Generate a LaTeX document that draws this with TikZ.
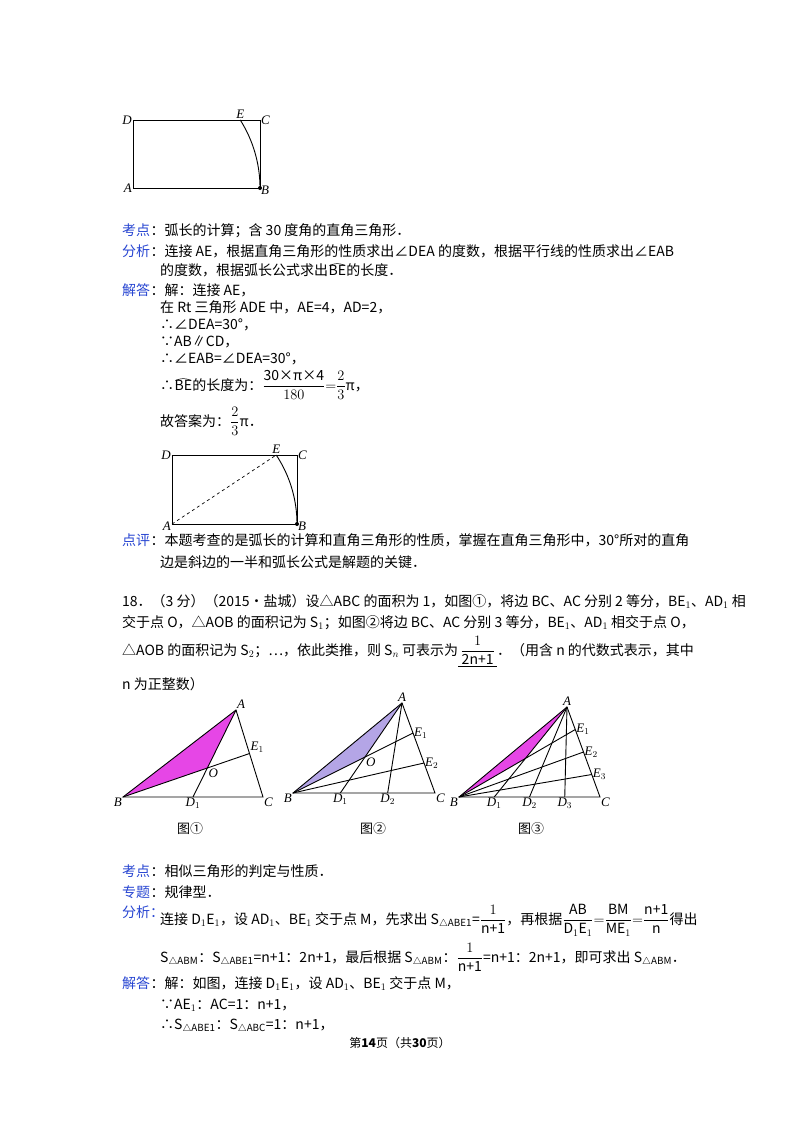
\documentclass[tikz,border=0pt]{standalone}
\usepackage{fontspec}
\setmainfont{Noto Sans CJK SC}
\newfontfamily\lab{Liberation Serif}
\usetikzlibrary{calc}
\newcommand{\fsz}{\fontsize{14}{16}\selectfont}
\definecolor{kblue}{RGB}{40,70,210}
\definecolor{mag}{RGB}{230,70,230}
\definecolor{lav}{RGB}{180,165,230}
\begin{document}
\begin{tikzpicture}[x=1pt,y=-1pt,
  txt/.style={anchor=base west,inner sep=0,font=\fsz},
  lbl/.style={inner sep=1pt,font=\fontsize{13}{13}\selectfont\lab\itshape},
  figcap/.style={inner sep=0,font=\fontsize{13}{13}\selectfont},
  fig/.style={line width=0.9pt}]
\useasboundingbox (0,0) rectangle (800,1132);
\fill[white] (0,0) rectangle (800,1132);
% top figure
\coordinate (tD) at (133,120); \coordinate (tC) at (260,120);
\coordinate (tA) at (133,188); \coordinate (tB) at (260,188);
\draw[fig] (tD)--(tC)--(tB)--(tA)--cycle;
\draw[fig] (tB) arc[start angle=0,end angle=32.4,radius=127pt] coordinate (tE);
\fill (tB) circle (2pt);
\node[lbl,left] at (tD) {D}; \node[lbl,right] at (tC) {C};
\node[lbl,above] at (tE) {E}; \node[lbl,left] at (tA) {A}; \node[lbl,right] at ($(tB)+(0,2)$) {B};
% text block 1
\node[txt,text=kblue] (k1) at (122,235) {考点};
\node[txt] (k1t) at (k1.base east) {：弧长的计算；含 30 度角的直角三角形．};
\node[txt,text=kblue] (f1) at (122,256) {分析};
\node[txt] (f1t) at (f1.base east) {：连接 AE，根据直角三角形的性质求出∠DEA 的度数，根据平行线的性质求出∠EAB};
\node[txt] (f1b) at (160,275) {的度数，根据弧长公式求出};
\node[txt] (be1) at (f1b.base east) {BE};
\draw[line width=0.5pt] ($(be1.north west)+(1,1)$) to[bend left=25] ($(be1.north east)+(-1,1)$);
\node[txt] at (be1.base east) {的长度．};
\node[txt,text=kblue] (j1) at (122,295) {解答};
\node[txt] at (j1.base east) {：解：连接 AE，};
\node[txt] at (160,312) {在 Rt 三角形 ADE 中，AE=4，AD=2，};
\node[txt] at (160,329) {∴∠DEA=30°，};
\node[txt] at (160,346) {∵AB∥CD，};
\node[txt] at (160,363) {∴∠EAB=∠DEA=30°，};
\node[txt] (s1) at (160,390) {∴ };
\node[txt] (be2) at (s1.base east) {BE};
\draw[line width=0.5pt] ($(be2.north west)+(1,1)$) to[bend left=25] ($(be2.north east)+(-1,1)$);
\node[txt] at (be2.base east) {的长度为：$\displaystyle\frac{\mbox{30×π×4}}{180}{=}\frac{2}{3}$π，};
\node[txt] at (160,426) {故答案为：$\displaystyle\frac{2}{3}$π．};
% second figure
\coordinate (sD) at (172,455); \coordinate (sC) at (297,455);
\coordinate (sA) at (172,524); \coordinate (sB) at (297,524);
\draw[fig] (sD)--(sC)--(sB)--(sA)--cycle;
\draw[fig] (sB) arc[start angle=0,end angle=33.5,radius=125pt] coordinate (sE);
\draw[dashed,line width=0.7pt] (sA)--(sE);
\fill (sB) circle (2pt);
\node[lbl,left] at (sD) {D}; \node[lbl,right] at (sC) {C};
\node[lbl,above] at (sE) {E}; \node[lbl,left] at ($(sA)+(0,2)$) {A}; \node[lbl,right] at ($(sB)+(0,2)$) {B};
\node[txt,text=kblue] (d1) at (122,545) {点评};
\node[txt] at (d1.base east) {：本题考查的是弧长的计算和直角三角形的性质，掌握在直角三角形中，30°所对的直角};
\node[txt] at (160,567) {边是斜边的一半和弧长公式是解题的关键．};
% problem 18
\node[txt] at (122,606) {18．（3 分）（2015•盐城）设△ABC 的面积为 1，如图①，将边 BC、AC 分别 2 等分，BE$_1$、AD$_1$ 相};
\node[txt] at (122,627) {交于点 O，△AOB 的面积记为 S$_1$；如图②将边 BC、AC 分别 3 等分，BE$_1$、AD$_1$ 相交于点 O，};
\node[txt] at (122,655) {△AOB 的面积记为 S$_2$；…，依此类推，则 S$_n$ 可表示为\underline{\,$\displaystyle\frac{1}{\mbox{2n+1}}$\,}．（用含 n 的代数式表示，其中};
\node[txt] at (122,689) {n 为正整数）};
% fig 1
\coordinate (aA) at (236,710); \coordinate (aB) at (123,797); \coordinate (aC) at (263,797);
\coordinate (aD) at ($(aB)!0.5!(aC)$); \coordinate (aE) at ($(aA)!0.5!(aC)$);
\coordinate (aO) at (intersection of aA--aD and aB--aE);
\fill[mag] (aA)--(aB)--(aO)--cycle;
\draw[fig] (aA)--(aB)--(aC)--cycle; \draw[fig] (aA)--(aD); \draw[fig] (aB)--(aE);
\node[lbl,above right] at (aA) {A}; \node[lbl,below left] at (aB) {B}; \node[lbl,below right] at (aC) {C};
\node[lbl,below] at (aD) {D$_1$}; \node[lbl,above right] at (aE) {E$_1$}; \node[lbl,below right] at (aO) {O};
\node[figcap] at (190,829) {图①};
% fig 2
\coordinate (bA) at (402,703); \coordinate (bB) at (293,793); \coordinate (bC) at (435,793);
\coordinate (bD1) at ($(bB)!1/3!(bC)$); \coordinate (bD2) at ($(bB)!2/3!(bC)$);
\coordinate (bE1) at ($(bA)!1/3!(bC)$); \coordinate (bE2) at ($(bA)!2/3!(bC)$);
\coordinate (bO) at (intersection of bA--bD1 and bB--bE1);
\fill[lav] (bA)--(bB)--(bO)--cycle;
\draw[fig] (bA)--(bB)--(bC)--cycle;
\foreach \p in {bD1,bD2} \draw[fig] (bA)--(\p);
\foreach \p in {bE1,bE2} \draw[fig] (bB)--(\p);
\node[lbl,above] at (bA) {A}; \node[lbl,below left] at (bB) {B}; \node[lbl,below right] at (bC) {C};
\node[lbl,below] at (bD1) {D$_1$}; \node[lbl,below] at (bD2) {D$_2$};
\node[lbl,right] at (bE1) {E$_1$}; \node[lbl,right] at (bE2) {E$_2$}; \node[lbl,below right] at (bO) {O};
\node[figcap] at (373,829) {图②};
% fig 3
\coordinate (cA) at (567,707); \coordinate (cB) at (459,797); \coordinate (cC) at (600,797);
\foreach \i in {1,2,3} {
  \coordinate (cD\i) at ($(cB)!\i/4!(cC)$); \coordinate (cE\i) at ($(cA)!\i/4!(cC)$);}
\coordinate (cO) at (intersection of cA--cD1 and cB--cE1);
\fill[mag] (cA)--(cB)--(cO)--cycle;
\draw[fig] (cA)--(cB)--(cC)--cycle;
\foreach \i in {1,2,3} {\draw[fig] (cA)--(cD\i); \draw[fig] (cB)--(cE\i);
  \node[lbl,below] at (cD\i) {D$_\i$}; \node[lbl,right] at (cE\i) {E$_\i$};}
\node[lbl,above] at (cA) {A}; \node[lbl,below left] at (cB) {B}; \node[lbl,below right] at (cC) {C};
\node[figcap] at (531,829) {图③};
% text block 2
\node[txt,text=kblue] (k2) at (122,876) {考点};
\node[txt] at (k2.base east) {：相似三角形的判定与性质．};
\node[txt,text=kblue] (z2) at (122,897) {专题};
\node[txt] at (z2.base east) {：规律型．};
\node[txt,text=kblue] at (122,917) {分析：};
\node[txt] at (160,924) {连接 D$_1$E$_1$，设 AD$_1$、BE$_1$ 交于点 M，先求出 S$_{\triangle\mathrm{ABE1}}$=$\displaystyle\frac{1}{\mbox{n+1}}$，再根据$\displaystyle\frac{\mbox{AB}}{\mbox{D}_1\mbox{E}_1}{=}\frac{\mbox{BM}}{\mbox{ME}_1}{=}\frac{\mbox{n+1}}{\mbox{n}}$得出};
\node[txt] at (160,962) {S$_{\triangle\mathrm{ABM}}$：S$_{\triangle\mathrm{ABE1}}$=n+1：2n+1，最后根据 S$_{\triangle\mathrm{ABM}}$：$\displaystyle\frac{1}{\mbox{n+1}}$=n+1：2n+1，即可求出 S$_{\triangle\mathrm{ABM}}$．};
\node[txt,text=kblue] (j2) at (122,988) {解答};
\node[txt] at (j2.base east) {：解：如图，连接 D$_1$E$_1$，设 AD$_1$、BE$_1$ 交于点 M，};
\node[txt] at (160,1009) {∵AE$_1$：AC=1：n+1，};
\node[txt] at (160,1029) {∴S$_{\triangle\mathrm{ABE1}}$：S$_{\triangle\mathrm{ABC}}$=1：n+1，};
\node[inner sep=0,font=\fontsize{12}{12}\selectfont] at (400,1043) {第\textbf{14}页（共\textbf{30}页）};
\end{tikzpicture}
\end{document}
